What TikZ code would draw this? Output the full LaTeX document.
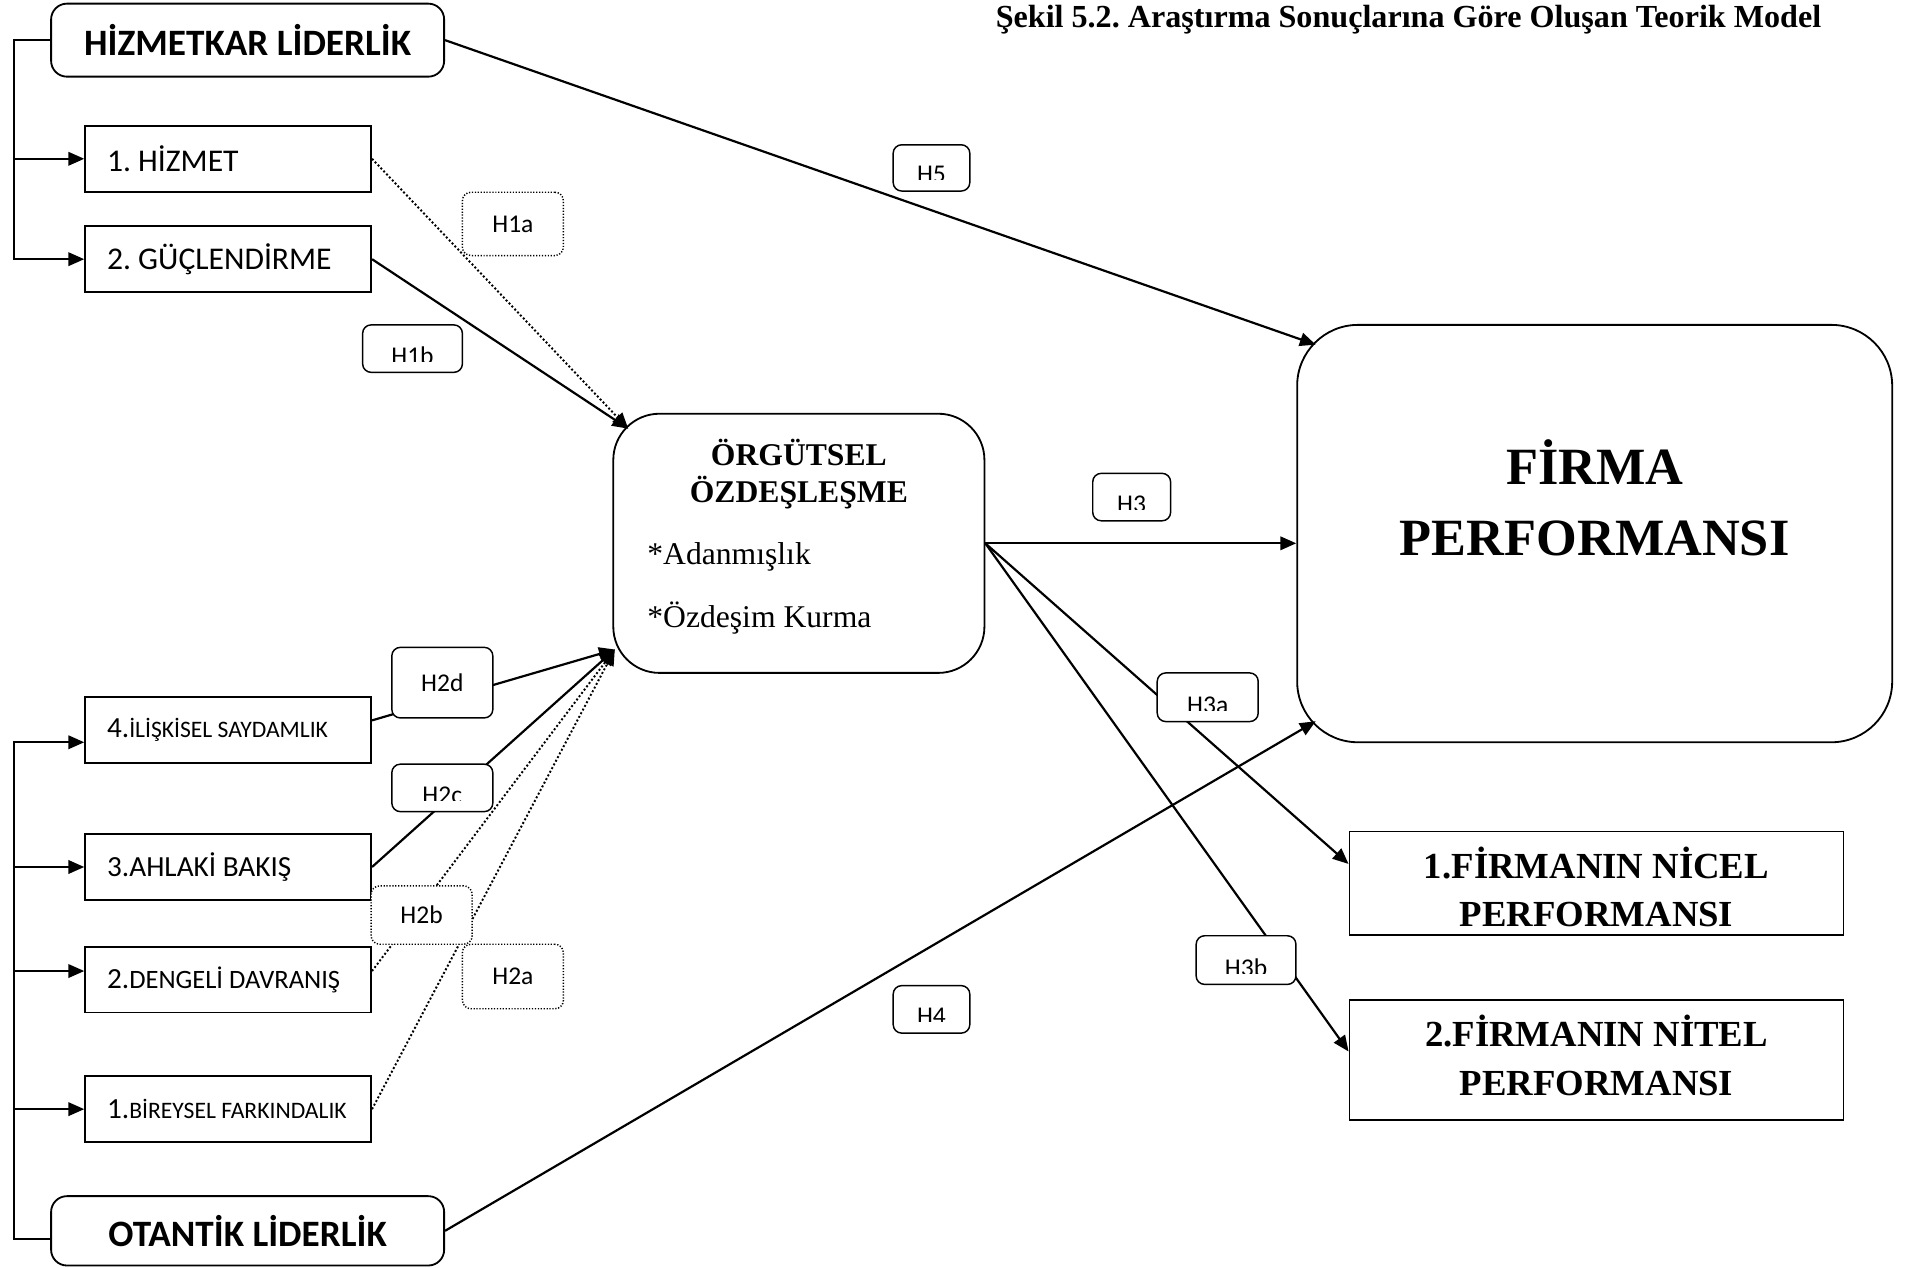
\documentclass[tikz,border=0pt]{standalone}
\usepackage{fontspec}
\setmainfont{Liberation Serif}
\newfontfamily\calibri{Carlito}
\usetikzlibrary{positioning, arrows.meta}

\begin{document}
\frenchspacing
\begin{tikzpicture}[x=0.5pt, y=-0.5pt, >={Triangle[length=6.5pt,width=5.5pt]},
  conn/.style={line width=0.9pt},
  dots/.style={line width=0.8pt, dash pattern=on 0.8pt off 0.9pt},
  lead/.style={draw, line width=0.75pt, rounded corners=6.5pt, minimum width=161.5pt, minimum height=30pt, font=\calibri\bfseries\fontsize{15.3}{18}\selectfont},
  sub/.style={draw, line width=0.75pt, minimum width=117.5pt, minimum height=27pt, inner xsep=9pt, text width=99.5pt, align=left,
    execute at begin node={\spaceskip=0pt\xspaceskip=0pt\relax}},
  hyp/.style={draw, line width=0.6pt, rounded corners=3.5pt, fill=white, font=\calibri\fontsize{10.5}{12}\selectfont},
  hypdot/.style={hyp, dash pattern=on 0.5pt off 0.7pt},
  hypcut/.style={hyp, path picture={
      \clip ([yshift=4.6pt]path picture bounding box.south west) rectangle (path picture bounding box.north east);
      \node[font=\calibri\fontsize{10.5}{12}\selectfont, anchor=base, inner sep=0pt, minimum width=0pt, minimum height=0pt] at ([yshift=3.4pt]path picture bounding box.south) {#1};}},
  result/.style={draw, line width=0.75pt, minimum width=203pt, align=center, font=\bfseries\fontsize{15.1}{20}\selectfont}
]
\useasboundingbox (0,0) rectangle (1568,1042);

% title
\node[font=\bfseries\fontsize{13.2}{15}\selectfont] (title) at (1157.5,16) {Şekil 5.2. Araştırma Sonuçlarına Göre Oluşan Teorik Model};

% leadership styles and their dimensions
\node[lead] (hiz) at (203.5,33) {HİZMETKAR LİDERLİK};
\node[sub, font=\calibri\fontsize{13}{15}\selectfont] (hzm) at (187.5,130.5) {1. HİZMET};
\node[sub, font=\calibri\fontsize{13}{15}\selectfont, below=13.5pt of hzm] (guc) {2. GÜÇLENDİRME};
\node[sub, font=\calibri\fontsize{9.7}{12}\selectfont] (say) at (187.5,600) {\mbox{{\fontsize{12}{14}\selectfont 4.}İLİŞKİSEL SAYDAMLIK}};
\node[sub, font=\calibri\fontsize{12}{14}\selectfont, below=28.5pt of say] (ahl) {3.AHLAKİ BAKIŞ};
\node[sub, font=\calibri\fontsize{10.9}{13}\selectfont, below=18.5pt of ahl] (den) {\mbox{{\fontsize{12}{14}\selectfont 2.}DENGELİ DAVRANIŞ}};
\node[sub, font=\calibri\fontsize{9.7}{12}\selectfont, below=25.5pt of den] (bir) {\mbox{{\fontsize{12}{14}\selectfont 1.}BİREYSEL FARKINDALIK}};
\node[lead, minimum height=28.5pt] (ota) at (203.5,1011.5) {OTANTİK LİDERLİK};

% mediator and outcomes
\node[draw, line width=0.75pt, rounded corners=19pt, minimum width=152.5pt, minimum height=106.5pt, inner xsep=14pt, text width=124.5pt, align=left,
  execute at begin node={\spaceskip=0pt\xspaceskip=0pt\relax}, font=\fontsize{13}{15}\selectfont] (org) at (656.5,446.5)
  {{\centering\bfseries ÖRGÜTSEL\\ÖZDEŞLEŞME\par}\vspace{10.8pt}*Adanmışlık\\[10.8pt]*Özdeşim Kurma\rule[-8pt]{0pt}{0pt}};
\node[draw, line width=0.75pt, rounded corners=25pt, minimum width=244.5pt, minimum height=171.5pt, align=center, font=\bfseries\fontsize{21.5}{29}\selectfont] (firma) at (1310.5,438.5) {FİRMA\\PERFORMANSI\rule[-29.5pt]{0pt}{0pt}};
\node[result, minimum height=42pt] (nicel) at (1312,726) {\rule{0pt}{15.8pt}1.FİRMANIN NİCEL\\PERFORMANSI};
\node[result, minimum height=49pt, below=26pt of nicel] (nitel) {2.FİRMANIN NİTEL\\PERFORMANSI\rule[-3.8pt]{0pt}{0pt}};

\coordinate (orgtop) at ([shift={(13,13)}]org.north west);
\coordinate (orgbot) at ([shift={(2,-20)}]org.south west);

% brackets
\draw[conn,->] (hiz.west) -- ++(-30,0) |- (guc.west);
\draw[conn,->] ([xshift=-15pt]hiz.west) |- (hzm.west);
\draw[conn,->] ([yshift=-3.5pt]ota.west) -- ++(-30,0) |- ([yshift=-5pt]say.west);
\foreach \b/\s in {ahl/0pt, den/3.5pt, bir/0pt}
  \draw[conn,->] ([xshift=-15pt]ota.west) |- ([yshift=\s]\b.west);

% paths
\draw[conn,->] (hiz.east) -- ([shift={(16,17)}]firma.north west);
\draw[conn,->] (ota.east) -- ([shift={(16,-18)}]firma.south west);
\draw[dots,->] (hzm.east) -- (orgtop);
\draw[conn,->] (guc.east) -- (orgtop);
\draw[conn,->] ([yshift=4pt]say.east) -- (orgbot);
\draw[conn,->] (ahl.east) -- (orgbot);
\draw[dots,->] ([yshift=3.5pt]den.east) -- (orgbot);
\draw[dots,->] (bir.east) -- (orgbot);
\draw[conn,->] (org.east) -- (org.east -| firma.west);
\draw[conn,->] (org.east) -- ([yshift=8pt]nicel.west);
\draw[conn,->] (org.east) -- ([yshift=3.5pt]nitel.west);

% hypothesis labels
\node[hypcut={H5}, minimum width=31.5pt, minimum height=19pt] (h5) at (765.5,138) {};
\node[hypdot, minimum width=41.5pt, minimum height=26pt] (h1a) at (421.5,184) {H1a};
\node[hypcut={H1b}, minimum width=41pt, minimum height=19.5pt] (h1b) at (339,286.5) {};
\node[hypcut={H3}, minimum width=32pt, minimum height=19.5pt] (h3) at (930,408.5) {};
\node[hypcut={H3a}, minimum width=41.5pt, minimum height=20pt] (h3a) at (992.5,573) {};
\node[hyp, minimum width=41.5pt, minimum height=29pt] (h2d) at (363.5,561) {H2d};
\node[hypcut={H2c}, minimum width=41.5pt, minimum height=19.5pt] (h2c) at (363.5,647.5) {};
\node[hypdot, minimum width=41.5pt, minimum height=24pt] (h2b) at (346.5,752) {H2b};
\node[hypdot, minimum width=41.5pt, minimum height=26.5pt] (h2a) at (421.5,802.5) {H2a};
\node[hypcut={H4}, minimum width=31.5pt, minimum height=19.5pt] (h4) at (765.5,829.5) {};
\node[hypcut={H3b}, minimum width=41pt, minimum height=20pt] (h3b) at (1024,789) {};
\end{tikzpicture}
\end{document}
